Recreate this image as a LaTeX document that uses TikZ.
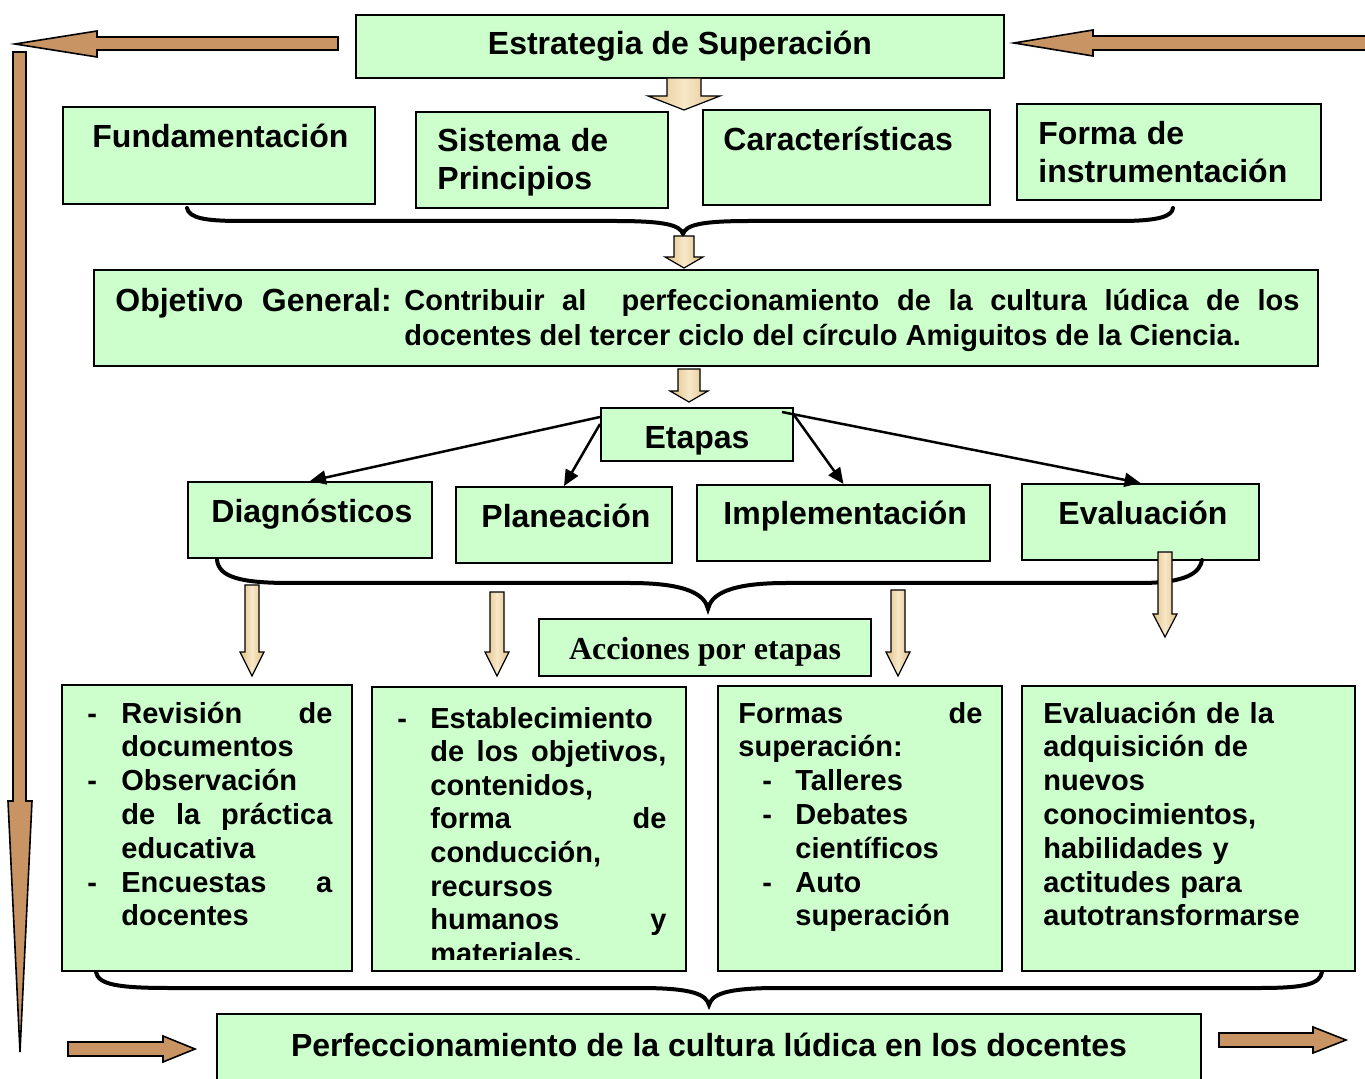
\documentclass[tikz,border=0pt]{standalone}
\usepackage{fontspec}
\setmainfont{Liberation Sans}
\newfontfamily\serifbf{Liberation Serif}
\usetikzlibrary{fit,arrows.meta,calc}
\definecolor{boxgreen}{RGB}{204,255,204}
\definecolor{tanlight}{RGB}{247,232,200}
\definecolor{tandark}{RGB}{225,192,135}
\definecolor{cork}{RGB}{200,148,100}
\newcommand\bigfont{\fontsize{16}{19}\selectfont\bfseries}
\newcommand\smallfont{\fontsize{14.5}{16.9}\selectfont\bfseries}
\newcommand\dashitem[2]{\noindent\hangindent=#1\hangafter=1\makebox[#1][l]{-}#2\par}
\newcommand\tanarrowdown[6]{\draw[tanarrow] ({#1-#5},#2) -- ({#1+#5},#2) -- ({#1+#5},#3) -- ({#1+#6},#3) -- (#1,#4) -- ({#1-#6},#3) -- ({#1-#5},#3) -- cycle;}
\tikzset{
  box/.style={draw=black, line width=1pt, fill=boxgreen, inner sep=0pt},
  lbl/.style={inner sep=0pt, font=\bigfont},
  body/.style={inner sep=0pt, font=\smallfont, align=justify,
    execute at begin node={\hyphenpenalty=10000\exhyphenpenalty=10000\tolerance=10000\pretolerance=-1}},
  conn/.style={line width=1.25pt, -{Triangle[length=8pt,width=7pt]}},
  brace/.style={line width=2pt, line cap=round},
  tanarrow/.style={draw=black, line width=0.6pt, left color=tandark, right color=tandark, middle color=tanlight},
  corkarrow/.style={draw=black, line width=0.8pt, fill=cork},
}
\begin{document}
\begin{tikzpicture}[x=0.5pt,y=-0.5pt]
\useasboundingbox (0,0) rectangle (1365,1079);

% boxes
\node[box, fit={(356,15) (1004,78)}] (estr) {};
\node[box, fit={(63,107) (375,204)}] (fund) {};
\node[box, fit={(416,112) (668,208)}] (sist) {};
\node[box, fit={(703,110) (990,205)}] (cara) {};
\node[box, fit={(1017,104) (1321,200)}] (forma) {};
\node[box, fit={(94,270) (1318,366)}] (obj) {};
\node[box, fit={(601,408) (793,461)}] (etapas) {};
\node[box, fit={(188,482) (432,558)}] (diag) {};
\node[box, fit={(456,487) (672,563)}] (plan) {};
\node[box, fit={(697,485) (990,561)}] (impl) {};
\node[box, fit={(1022,484) (1259,560)}] (eval) {};
\node[box, fit={(539,619) (871,676)}] (acc) {};
\node[box, fit={(62,685) (352,971)}] (b1) {};
\node[box, fit={(372,687) (686,971)}] (b2) {};
\node[box, fit={(718,686) (1002,971)}] (b3) {};
\node[box, fit={(1022,686) (1355,971)}] (b4) {};
\node[box, fit={(217,1014) (1201,1100)}] (perf) {};

% texts
\node[lbl, anchor=base] (estrt) at (680,55) {Estrategia de Superación};
\node[lbl, anchor=base west] (fundt) at (92,148) {Fundamentación};
\node[lbl, anchor=base west, text width=150pt, align=left] (sistt) at (437,152) {Sistema de\\Principios};
\node[lbl, anchor=base west] (carat) at (723,151) {Características};
\node[lbl, anchor=base west, text width=160pt, align=left] (format) at (1038,145) {Forma de\\instrumentación};
\node[lbl, anchor=base west] (objl) at (115,312) {Objetivo\hspace{0.3em} General:};
\node[body, anchor=base west, text width=447.5pt, font={\fontsize{14.5}{17.5}\selectfont\bfseries}] (objt) at (404,311)
  {\noindent Contribuir al\ \ perfeccionamiento de la cultura lúdica de los\linebreak docentes del tercer ciclo del círculo Amiguitos de la Ciencia.};
\node[lbl, anchor=base] (etapast) at (697,449) {Etapas};
\node[lbl, anchor=base west] (diagt) at (211,523) {Diagnósticos};
\node[lbl, anchor=base west] (plant) at (481,528) {Planeación};
\node[lbl, anchor=base west] (implt) at (723,525) {Implementación};
\node[lbl, anchor=base west] (evalt) at (1058,525) {Evaluación};
\node[lbl, anchor=base, font={\serifbf\bfseries\fontsize{16}{19}\selectfont}] (acct) at (705,659) {Acciones por etapas};
\node[lbl, anchor=base] (perft) at (709,1056) {Perfeccionamiento de la cultura lúdica en los docentes};

\node[body, anchor=base west, text width=122.5pt] (b1t) at (87,723)
  {\dashitem{17pt}{Revisión de\linebreak documentos}%
   \dashitem{17pt}{Observación\linebreak de la práctica\linebreak educativa}%
   \dashitem{17pt}{Encuestas a\linebreak docentes}};
\begin{scope}
\clip (373,688) rectangle (685,959);
\node[body, anchor=base west, text width=134.5pt, font={\fontsize{14.5}{16.8}\selectfont\bfseries}] (b2t) at (397,728)
  {\dashitem{16.5pt}{Establecimiento\linebreak de los objetivos,\linebreak contenidos,\linebreak forma de\linebreak conducción,\linebreak recursos\linebreak humanos y\linebreak materiales.}};
\end{scope}
\node[body, anchor=base west, text width=122pt] (b3t) at (738,723)
  {\noindent Formas de\linebreak superación:\par
   \leftskip=12pt
   \dashitem{16.5pt}{Talleres}%
   \dashitem{16.5pt}{Debates\linebreak científicos}%
   \dashitem{16.5pt}{Auto\linebreak superación}};
\node[body, anchor=base west, text width=170pt, align=left] (b4t) at (1043,723)
  {Evaluación de la\\adquisición de\\nuevos\\conocimientos,\\habilidades y\\actitudes para\\autotransformarse};

% connectors from Etapas
\draw[conn] ([yshift=-5pt]etapas.north west) -- (diag.north);
\draw[conn] ([yshift=-8.5pt]etapas.north west) -- (plan.north);
\draw[conn] ([yshift=-4pt]etapas.north east) -- (impl.north);
\draw[conn] ([xshift=-6pt,yshift=-2.5pt]etapas.north east) -- (eval.north);

% braces
\draw[brace] (187,208) .. controls (189,218) and (205,221) .. (240,221) -- (615,221)
  .. controls (665,221) and (680,225) .. (683,234)
  .. controls (686,225) and (700,221) .. (750,221) -- (1120,221)
  .. controls (1160,221) and (1172,216) .. (1173,208);
\draw[brace] (217,560) .. controls (219,577) and (240,583) .. (290,583) -- (630,583)
  .. controls (688,583) and (705,595) .. (708,609)
  .. controls (711,595) and (728,583) .. (786,583) -- (1140,583)
  .. controls (1188,583) and (1200,572) .. (1202,560);
\draw[brace] (96,972) .. controls (98,985) and (120,988) .. (170,988) -- (640,988)
  .. controls (695,988) and (706,995) .. (709,1005)
  .. controls (712,995) and (723,988) .. (778,988) -- (1260,988)
  .. controls (1305,988) and (1320,984) .. (1322,972);

% tan block arrows
\tanarrowdown{684}{78}{96}{110}{17}{36}
\tanarrowdown{684}{236}{257}{268}{10}{19}
\tanarrowdown{689}{369}{391}{402}{11}{19}
\tanarrowdown{252}{585}{652}{676}{7}{12}
\tanarrowdown{497}{592}{652}{676}{7}{12}
\tanarrowdown{898}{590}{652}{676}{7}{12}
\tanarrowdown{1165}{552}{614}{637}{7}{12}

% cork arrows
\draw[corkarrow] (338,37) -- (338,50) -- (97,50) -- (97,57) -- (15,44) -- (97,31) -- (97,37) -- cycle;
\draw[corkarrow] (1372,36) -- (1093,36) -- (1093,30) -- (1014,43) -- (1093,56) -- (1093,50) -- (1372,50) -- cycle;
\draw[corkarrow] (13,52) -- (26,52) -- (26,801) -- (32,801) -- (20,1052) -- (8,801) -- (13,801) -- cycle;
\draw[corkarrow] (68,1042) -- (163,1042) -- (163,1036) -- (195,1049) -- (163,1062) -- (163,1056) -- (68,1056) -- cycle;
\draw[corkarrow] (1219,1033) -- (1313,1033) -- (1313,1027) -- (1346,1040) -- (1313,1053) -- (1313,1047) -- (1219,1047) -- cycle;
\end{tikzpicture}
\end{document}
